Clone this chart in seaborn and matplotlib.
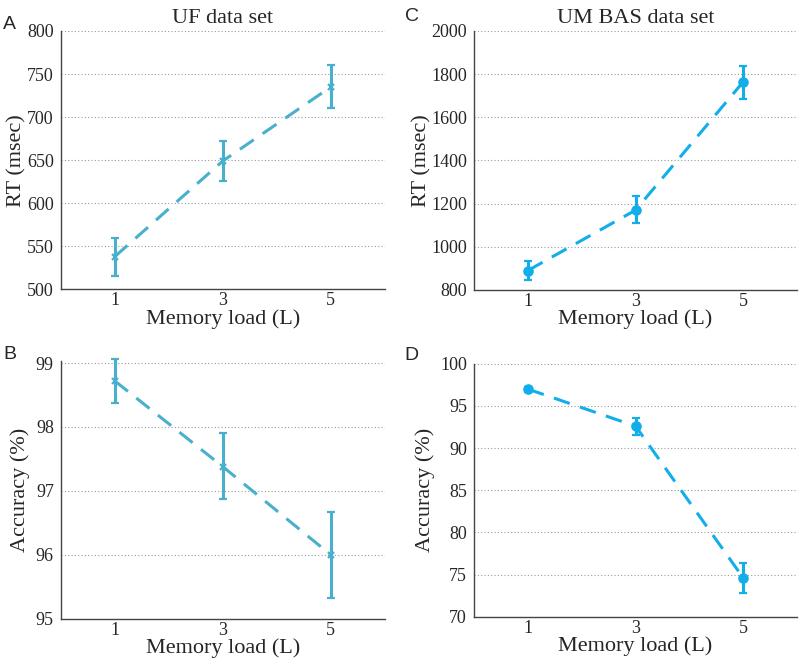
import pandas as pd
import matplotlib
matplotlib.use("Agg")
import matplotlib.pyplot as plt
import seaborn as sns

# --- data ---
loads = [1, 3, 5]

uf_rt = [538, 649, 735]
uf_rt_lo = [516, 626, 710]
uf_rt_hi = [559, 672, 760]

uf_acc = [98.72, 97.38, 96.0]
uf_acc_lo = [98.38, 96.88, 95.32]
uf_acc_hi = [99.07, 97.90, 96.67]

um_rt = [890, 1170, 1765]
um_rt_lo = [845, 1110, 1685]
um_rt_hi = [935, 1235, 1840]

um_acc = [97.0, 92.6, 74.6]
um_acc_lo = [96.6, 91.6, 72.8]
um_acc_hi = [97.3, 93.6, 76.4]

sns.set_style("white")
plt.rcParams['font.family'] = ['Liberation Serif', 'DejaVu Serif']

uf_color = "#48B0CC"
um_color = "#12AEEA"

fig = plt.figure(figsize=(8, 6.59), dpi=100)
ax_a = fig.add_axes([0.076, 0.561, 0.405, 0.392])
ax_b = fig.add_axes([0.076, 0.061, 0.405, 0.391])
ax_c = fig.add_axes([0.5925, 0.560, 0.404, 0.393])
ax_d = fig.add_axes([0.5925, 0.064, 0.404, 0.384])


def draw_panel(ax, y, lo, hi, color, marker, ylim, yticks, ylabel, label_x, title=None):
    df = pd.DataFrame({"load": loads, "val": y, "lo": lo, "hi": hi})
    sns.lineplot(data=df, x="load", y="val", ax=ax, color=color, linewidth=2.2,
                 linestyle=(0, (5.5, 3.5)), marker=None)
    yerr = [df["val"] - df["lo"], df["hi"] - df["val"]]
    ax.errorbar(df["load"], df["val"], yerr=yerr, fmt=marker, color=color,
                ecolor=color, elinewidth=2.2, capsize=3, capthick=2.2,
                markersize=6 if marker == "o" else 5, markeredgewidth=1.6,
                clip_on=False)
    ax.set_xlim(0, 6)
    ax.set_ylim(*ylim)
    ax.set_xticks(loads)
    ax.set_yticks(yticks)
    ax.tick_params(axis="y", length=0, labelsize=13, pad=5)
    ax.tick_params(axis="x", length=0, labelsize=13, pad=2)
    ax.set_xlabel("Memory load (L)", fontsize=16, labelpad=0)
    ax.set_ylabel(ylabel, fontsize=16)
    ax.yaxis.set_label_coords(label_x, 0.5)
    for t in yticks[1:]:
        ax.axhline(t, color="#9a9a9a", linestyle=(0, (1, 2)), linewidth=0.8, zorder=0)
    sns.despine(ax=ax)
    for s in ["left", "bottom"]:
        ax.spines[s].set_color("#444444")
        ax.spines[s].set_linewidth(1.0)
    if title:
        ax.set_title(title, fontsize=16, pad=6)


draw_panel(ax_a, uf_rt, uf_rt_lo, uf_rt_hi, uf_color, "x", (500, 800),
           [500, 550, 600, 650, 700, 750, 800], "RT (msec)", -0.106, "UF data set")
draw_panel(ax_b, uf_acc, uf_acc_lo, uf_acc_hi, uf_color, "x", (95, 99.03),
           [95, 96, 97, 98, 99], "Accuracy (%)", -0.095)
draw_panel(ax_c, um_rt, um_rt_lo, um_rt_hi, um_color, "o", (800, 2000),
           [800, 1000, 1200, 1400, 1600, 1800, 2000], "RT (msec)", -0.132, "UM BAS data set")
draw_panel(ax_d, um_acc, um_acc_lo, um_acc_hi, um_color, "o", (70, 100),
           [70, 75, 80, 85, 90, 95, 100], "Accuracy (%)", -0.12)

# panel letters
letter_font = ['Liberation Sans', 'DejaVu Sans']
fig.text(0.004, 1 - 29 / 659, "A", fontsize=14, family=letter_font)
fig.text(0.004, 1 - 359 / 659, "B", fontsize=14, family=letter_font)
fig.text(0.506, 1 - 21 / 659, "C", fontsize=14, family=letter_font)
fig.text(0.506, 1 - 360 / 659, "D", fontsize=14, family=letter_font)

fig.savefig("out.png", dpi=100)
